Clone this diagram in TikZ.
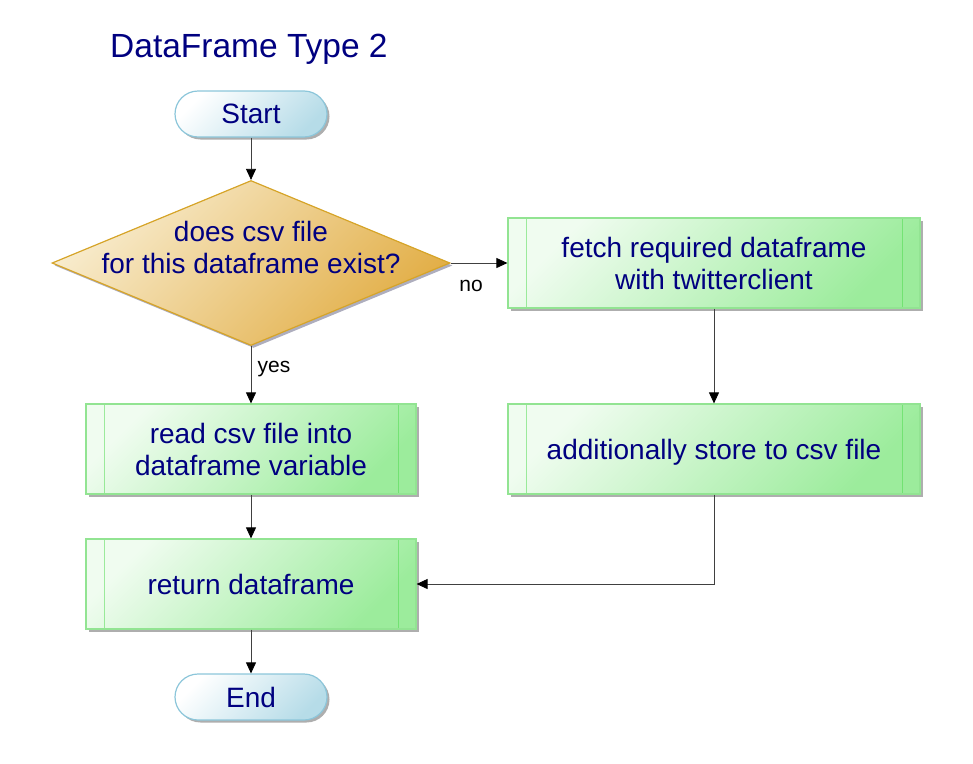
\documentclass[tikz,border=0pt]{standalone}
\usepackage{fontspec}
\setmainfont{Liberation Sans}
\usepackage{tikz}
\usetikzlibrary{shapes.geometric,shadows,arrows.meta}
\usepackage{xcolor}
\definecolor{flowtext}{RGB}{0,0,128}
\definecolor{termedge}{RGB}{140,198,218}
\definecolor{termfill}{RGB}{182,220,232}
\definecolor{decedge}{RGB}{214,164,40}
\definecolor{decfill}{RGB}{226,174,70}
\definecolor{declight}{RGB}{248,236,206}
\definecolor{procedge}{RGB}{146,228,146}
\definecolor{procfill}{RGB}{156,236,156}

\tikzset{
    title/.style={text=flowtext, inner sep=0pt, font=\fontsize{33.5}{38}\selectfont},
    terminal/.style={rectangle, rounded corners=23pt, draw=termedge, line width=1.2pt,
        top color=white, bottom color=termfill, shading angle=45,
        minimum width=152pt, minimum height=46pt, inner sep=0pt,
        text=flowtext, font=\fontsize{28}{32}\selectfont,
        drop shadow={shadow xshift=2.5pt, shadow yshift=-2.5pt, fill=black!45, opacity=0.7}},
    decision/.style={diamond, draw=decedge, line width=1.2pt,
        top color=declight, bottom color=decfill, shading angle=45,
        minimum width=398pt, minimum height=165pt, inner sep=0pt,
        drop shadow={shadow xshift=2.5pt, shadow yshift=-2.5pt, fill=blue!20!black!45, opacity=0.7}},
    plaintext/.style={text=flowtext, align=center, inner sep=0pt, font=\fontsize{28}{32}\selectfont},
    process/.style={rectangle, draw=procedge, line width=1.2pt,
        top color=white!85!procfill, bottom color=procfill, shading angle=45,
        minimum height=90pt, inner sep=0pt, align=center,
        text=flowtext, font=\fontsize{28}{32}\selectfont,
        drop shadow={shadow xshift=2.5pt, shadow yshift=-2.5pt, fill=black!45, opacity=0.7},
        path picture={\draw[procedge!85!black!60!green, line width=1pt, opacity=0.5]
            ([xshift=18pt]path picture bounding box.north west) -- ([xshift=18pt]path picture bounding box.south west)
            ([xshift=-18pt]path picture bounding box.north east) -- ([xshift=-18pt]path picture bounding box.south east);}},
    flow/.style={draw=black!75, line width=0.8pt, -{Triangle[length=11pt, width=10pt, color=black]}},
    branch/.style={text=black, font=\fontsize{21}{24}\selectfont}
}

\begin{document}
\begin{tikzpicture}[x=1pt, y=-1pt]
    \useasboundingbox (0,0) rectangle (973,763);

    % Title
    \node[title, anchor=base west] (title) at (110,57) {DataFrame Type 2};

    % Left column
    \node[terminal] (start) at (251,114) {Start};
    \node[decision] (check) at (251,263) {};
    \node[plaintext] (checktext) at (251,247) {does csv file\\for this dataframe exist?};
    \node[process, minimum width=330pt] (read) at (251,449) {read csv file into\\dataframe variable};
    \node[process, minimum width=330pt] (ret) at (251,584) {return dataframe};
    \node[terminal] (end) at (251,697) {End};

    % Right column
    \node[process, minimum width=412pt] (fetch) at (714,263) {fetch required dataframe\\with twitterclient};
    \node[process, minimum width=412pt, text depth=0pt] (store) at (714,449) {additionally store to csv file};

    % Connectors
    \draw[flow] (start) -- (check);
    \draw[flow] (check) -- node[branch, pos=0.4, right, xshift=3pt] {yes} (read);
    \draw[flow] (check) -- node[branch, pos=0.36, below, yshift=-13pt] {no} (fetch);
    \draw[flow] (fetch) -- (store);
    \draw[flow] (read) -- (ret);
    \draw[flow] (store) |- (ret);
    \draw[flow] (ret) -- (end);
\end{tikzpicture}
\end{document}
